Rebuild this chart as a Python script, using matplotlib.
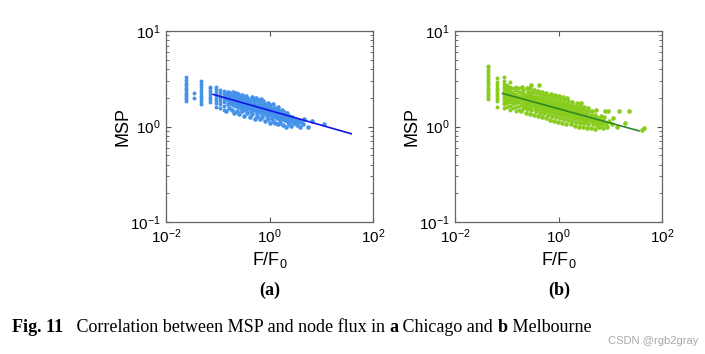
import numpy as np
import matplotlib.pyplot as plt
from matplotlib.ticker import LogLocator, NullLocator

plt.rcParams['font.family'] = ['Liberation Sans', 'DejaVu Sans']
plt.rcParams['mathtext.fontset'] = 'custom'
plt.rcParams['mathtext.rm'] = 'Liberation Sans'
plt.rcParams['mathtext.it'] = 'Liberation Sans'

# ---- (a) Chicago ----
# vertical stripes at the low-flux end
chi_stripe_f = [0.024, 0.035, 0.047, 0.071, 0.092, 0.11, 0.13]
chi_stripe_msp = [
    [1.85, 1.95, 2.05, 2.15, 2.25, 2.4, 2.55, 2.7, 2.85, 3.05, 3.3],
    [2.0, 2.25],
    [1.7, 1.85, 2.0, 2.1, 2.25, 2.4, 2.6, 2.8, 3.0],
    [1.8, 1.95, 2.05, 2.2, 2.35, 2.5, 2.6],
    [1.6, 1.75, 1.9, 2.0, 2.15, 2.3, 2.45, 2.6],
    [1.55, 1.7, 1.85, 2.0, 2.1, 2.25, 2.4],
    [1.5, 1.65, 1.8, 1.95, 2.1, 2.25, 2.35],
]
# main cloud
chi_f = [0.142, 0.158, 0.147, 0.153, 0.139, 0.161,
         0.166, 0.178, 0.171, 0.163, 0.181,
         0.186, 0.199, 0.192, 0.184, 0.203, 0.195,
         0.208, 0.226, 0.214, 0.221, 0.205, 0.229,
         0.236, 0.252, 0.241, 0.258, 0.233, 0.247,
         0.263, 0.284, 0.271, 0.279, 0.266, 0.288,
         0.293, 0.315, 0.302, 0.309, 0.297,
         0.328, 0.352, 0.339, 0.345, 0.331, 0.356,
         0.366, 0.392, 0.378, 0.385, 0.371,
         0.412, 0.446, 0.425, 0.438, 0.418, 0.451,
         0.465, 0.498, 0.482, 0.491, 0.472,
         0.521, 0.562, 0.538, 0.553, 0.529, 0.547,
         0.582, 0.624, 0.601, 0.613, 0.590,
         0.652, 0.705, 0.671, 0.692, 0.663, 0.684,
         0.731, 0.792, 0.758, 0.776, 0.744,
         0.818, 0.882, 0.846, 0.866, 0.832,
         0.915, 0.986, 0.948, 0.972, 0.931,
         1.02, 1.11, 1.06, 1.09, 1.04,
         1.15, 1.25, 1.19, 1.22, 1.17,
         1.29, 1.41, 1.33, 1.37,
         1.44, 1.57, 1.49, 1.53, 1.46,
         1.63, 1.77, 1.69, 1.72,
         1.83, 1.98, 1.89, 1.94,
         2.06, 2.24, 2.12, 2.18,
         2.33, 2.49, 2.41,
         2.62, 2.78, 2.70,
         2.95, 3.12,
         3.35, 3.52,
         3.85, 4.05,
         4.60, 4.40,
         5.5, 6.6, 11.5]
chi_msp = [1.45, 1.72, 1.92, 2.08, 2.22, 2.32,
           1.55, 1.78, 1.96, 2.12, 2.26,
           1.50, 1.66, 1.86, 2.02, 2.16, 2.30,
           1.40, 1.62, 1.80, 1.96, 2.10, 2.22,
           1.46, 1.60, 1.76, 1.90, 2.05, 2.20,
           1.36, 1.55, 1.70, 1.84, 1.98, 2.14,
           1.45, 1.60, 1.74, 1.88, 2.04,
           1.30, 1.50, 1.64, 1.78, 1.94, 2.10,
           1.40, 1.55, 1.70, 1.84, 1.98,
           1.26, 1.44, 1.58, 1.74, 1.88, 2.04,
           1.34, 1.50, 1.64, 1.78, 1.94,
           1.20, 1.40, 1.54, 1.68, 1.84, 1.98,
           1.30, 1.45, 1.58, 1.72, 1.88,
           1.20, 1.35, 1.48, 1.62, 1.78, 1.92,
           1.25, 1.40, 1.54, 1.68, 1.84,
           1.15, 1.30, 1.44, 1.58, 1.74,
           1.20, 1.34, 1.48, 1.62, 1.78,
           1.10, 1.24, 1.38, 1.52, 1.68,
           1.14, 1.28, 1.42, 1.56, 1.72,
           1.10, 1.24, 1.38, 1.52,
           1.05, 1.18, 1.32, 1.46, 1.60,
           1.10, 1.24, 1.36, 1.48,
           1.04, 1.16, 1.28, 1.42,
           1.00, 1.12, 1.24, 1.38,
           1.07, 1.19, 1.30,
           1.02, 1.14, 1.26,
           1.09, 1.21,
           1.04, 1.17,
           1.00, 1.12,
           1.20, 1.05,
           1.00, 1.14, 1.05]
# denser core along the trend
chi_core_f = [0.162, 0.165, 0.180, 0.176, 0.200, 0.197, 0.225, 0.230, 0.250, 0.246,
              0.285, 0.281, 0.320, 0.324, 0.360, 0.356, 0.400, 0.404, 0.455, 0.459,
              0.510, 0.506, 0.570, 0.575, 0.640, 0.635, 0.720, 0.726, 0.800, 0.795,
              0.900, 0.907, 1.00, 0.99, 1.13, 1.14, 1.27, 1.26, 1.42, 1.43,
              1.60, 1.61, 1.80, 1.79, 2.00, 2.02, 2.30, 2.28, 2.55, 2.85, 3.2, 3.6]
chi_core_msp = [1.98, 1.85, 1.90, 2.04, 1.75, 1.95, 1.86, 1.70, 1.83, 1.95,
                1.78, 1.64, 1.74, 1.86, 1.70, 1.58, 1.67, 1.79, 1.62, 1.52,
                1.59, 1.70, 1.56, 1.46, 1.53, 1.64, 1.49, 1.40, 1.47, 1.57,
                1.44, 1.35, 1.42, 1.52, 1.39, 1.30, 1.36, 1.45, 1.33, 1.25,
                1.30, 1.38, 1.28, 1.20, 1.26, 1.33, 1.23, 1.15, 1.20, 1.18, 1.15, 1.12]
chi_fit_f = [0.081, 38]
chi_fit_msp = [2.17, 0.84]

# ---- (b) Melbourne ----
mel_stripe_f = [0.044, 0.065, 0.087, 0.10, 0.115, 0.13, 0.15, 0.17]
mel_stripe_msp = [
    [1.95, 2.05, 2.15, 2.25, 2.35, 2.45, 2.55, 2.7, 2.85, 3.0, 3.15, 3.3, 3.5, 3.7, 3.9, 4.15, 4.35],
    [1.6, 1.85, 1.95, 2.05, 2.15, 2.25, 2.4, 2.55, 2.7, 2.9, 3.2],
    [1.55, 1.7, 1.8, 1.9, 2.0, 2.1, 2.2, 2.3, 2.45, 2.6, 2.8, 3.0, 3.3],
    [1.6, 1.75, 1.9, 2.05, 2.2, 2.35, 2.5, 2.7],
    [1.5, 1.65, 1.8, 1.95, 2.1, 2.25, 2.4, 2.6, 2.9],
    [1.55, 1.7, 1.85, 2.0, 2.15, 2.3, 2.5],
    [1.45, 1.6, 1.75, 1.9, 2.05, 2.2, 2.4, 2.6],
    [1.5, 1.65, 1.8, 1.95, 2.1, 2.3, 2.5],
]
mel_f = [0.192, 0.207, 0.198, 0.211, 0.189, 0.203, 0.195, 0.209, 0.200,
         0.231, 0.248, 0.236, 0.252, 0.228, 0.244, 0.239, 0.255, 0.242,
         0.278, 0.299, 0.285, 0.303, 0.274, 0.294, 0.288, 0.306, 0.281, 0.297,
         0.336, 0.361, 0.344, 0.366, 0.331, 0.355, 0.348, 0.368, 0.340,
         0.402, 0.433, 0.414, 0.438, 0.398, 0.425, 0.419, 0.441, 0.408, 0.429,
         0.482, 0.518, 0.495, 0.522, 0.476, 0.510, 0.501, 0.526, 0.489,
         0.578, 0.622, 0.594, 0.627, 0.571, 0.612, 0.601, 0.631, 0.586,
         0.692, 0.745, 0.712, 0.751, 0.684, 0.733, 0.720, 0.756, 0.703,
         0.828, 0.892, 0.852, 0.898, 0.819, 0.877, 0.861, 0.905, 0.841,
         0.992, 1.068, 1.021, 1.075, 0.981, 1.050, 1.031, 1.083, 1.008,
         1.19, 1.28, 1.22, 1.29, 1.17, 1.26, 1.24, 1.30, 1.21,
         1.42, 1.53, 1.46, 1.54, 1.40, 1.51, 1.48, 1.56, 1.44,
         1.71, 1.83, 1.75, 1.85, 1.68, 1.80, 1.78, 1.86,
         2.04, 2.20, 2.10, 2.22, 2.01, 2.16, 2.13, 2.24,
         2.45, 2.63, 2.51, 2.66, 2.40, 2.58, 2.55, 2.68,
         2.94, 3.16, 3.02, 3.19, 2.89, 3.10, 3.06,
         3.52, 3.78, 3.61, 3.82, 3.46, 3.71, 3.66,
         4.24, 4.55, 4.35, 4.60, 4.17, 4.47,
         5.10, 5.48, 5.23, 5.52, 5.02, 5.38,
         6.1, 6.5, 6.3, 6.7,
         7.3, 7.9, 7.6, 8.0,
         8.8, 9.4, 9.1,
         10.6, 11.4,
         13.5, 14.5,
         19.0, 23.0,
         41.0, 45.0]
mel_msp = [1.45, 1.58, 1.70, 1.82, 1.95, 2.08, 2.22, 2.40, 2.62,
           1.40, 1.52, 1.65, 1.78, 1.90, 2.03, 2.16, 2.32, 2.55,
           1.35, 1.48, 1.60, 1.72, 1.85, 1.98, 2.12, 2.28, 2.50, 2.75,
           1.32, 1.44, 1.56, 1.68, 1.80, 1.93, 2.06, 2.22, 2.42,
           1.28, 1.40, 1.52, 1.64, 1.76, 1.88, 2.02, 2.18, 2.38, 2.70,
           1.25, 1.37, 1.48, 1.60, 1.72, 1.84, 1.97, 2.12, 2.30,
           1.22, 1.33, 1.45, 1.56, 1.68, 1.80, 1.93, 2.08, 2.25,
           1.18, 1.30, 1.41, 1.52, 1.64, 1.76, 1.89, 2.04, 2.20,
           1.15, 1.26, 1.37, 1.48, 1.60, 1.72, 1.85, 2.00, 2.15,
           1.12, 1.23, 1.34, 1.45, 1.56, 1.68, 1.80, 1.95, 2.10,
           1.10, 1.20, 1.31, 1.42, 1.53, 1.64, 1.76, 1.90, 2.05,
           1.07, 1.17, 1.28, 1.38, 1.49, 1.60, 1.72, 1.86, 2.00,
           1.05, 1.15, 1.25, 1.35, 1.46, 1.57, 1.68, 1.82,
           1.02, 1.12, 1.22, 1.32, 1.43, 1.54, 1.65, 1.78,
           1.00, 1.10, 1.20, 1.30, 1.40, 1.50, 1.62, 1.75,
           0.98, 1.08, 1.17, 1.27, 1.37, 1.48, 1.60,
           0.97, 1.06, 1.15, 1.25, 1.35, 1.46, 1.58,
           0.96, 1.05, 1.14, 1.23, 1.33, 1.45,
           0.95, 1.04, 1.13, 1.22, 1.32, 1.48,
           0.98, 1.08, 1.18, 1.30,
           0.97, 1.10, 1.25, 1.45,
           1.00, 1.15, 1.45,
           1.05, 1.22,
           0.98, 1.45,
           1.10, 1.47,
           0.93, 0.96]
mel_core_f = [0.22, 0.215, 0.224, 0.265, 0.26, 0.27, 0.32, 0.315, 0.326,
              0.385, 0.38, 0.39, 0.46, 0.455, 0.467, 0.55, 0.545, 0.558,
              0.66, 0.652, 0.668, 0.79, 0.78, 0.80, 0.94, 0.93, 0.95,
              1.13, 1.12, 1.15, 1.35, 1.33, 1.37, 1.62, 1.60, 1.64,
              1.94, 1.92, 1.97, 2.33, 2.30, 2.36, 2.80, 2.76, 2.84,
              3.35, 3.40, 4.0, 4.06, 4.85, 4.9, 5.8, 5.9, 7.0, 7.1, 8.3]
mel_core_msp = [1.76, 1.98, 2.14, 1.70, 1.92, 2.08, 1.66, 1.88, 2.02,
                1.62, 1.83, 1.97, 1.58, 1.79, 1.92, 1.53, 1.75, 1.88,
                1.50, 1.70, 1.83, 1.46, 1.66, 1.79, 1.42, 1.62, 1.75,
                1.38, 1.58, 1.71, 1.35, 1.54, 1.67, 1.31, 1.50, 1.62,
                1.28, 1.46, 1.58, 1.25, 1.42, 1.55, 1.22, 1.39, 1.52,
                1.19, 1.35, 1.16, 1.30, 1.12, 1.27, 1.10, 1.22, 1.05, 1.18, 1.07]
mel_fit_f = [0.083, 36]
mel_fit_msp = [2.22, 0.90]

panels = [
    (chi_stripe_f, chi_stripe_msp, chi_f + chi_core_f, chi_msp + chi_core_msp,
     chi_fit_f, chi_fit_msp, '#4592ea', '#1414e6', '(a)', 166),
    (mel_stripe_f, mel_stripe_msp, mel_f + mel_core_f, mel_msp + mel_core_msp,
     mel_fit_f, mel_fit_msp, '#88cc1e', '#2f8a22', '(b)', 455),
]

W, H = 705, 354
fig = plt.figure(figsize=(W / 100, H / 100), dpi=100)

for sf, smsp, f, msp, ff, fmsp, pc, lc, tag, left in panels:
    ax = fig.add_axes([left / W, 1 - 222 / H, 207 / W, 191 / H])
    for x, ys in zip(sf, smsp):
        ax.scatter([x] * len(ys), ys, s=8, color=pc, linewidths=0)
    ax.scatter(f, msp, s=11, color=pc, linewidths=0)
    ax.plot(ff, fmsp, color=lc, lw=1.2)
    ax.set_xscale('log')
    ax.set_yscale('log')
    ax.set_xlim(1e-2, 1e2)
    ax.set_ylim(1e-1, 1e1)
    ax.set_xticks([1e-2, 1e0, 1e2])
    ax.xaxis.set_minor_locator(NullLocator())
    ax.yaxis.set_major_locator(LogLocator(base=10))
    ax.yaxis.set_minor_locator(LogLocator(base=10, subs=np.arange(2, 10)))
    ax.tick_params(which='both', direction='in', top=True, right=True,
                   labelsize=11, color='#555555', pad=4)
    ax.tick_params(which='major', length=3.5)
    ax.tick_params(which='minor', length=2)
    for sp in ax.spines.values():
        sp.set_color('#666666')
        sp.set_linewidth(0.9)
    ax.set_ylabel('MSP', fontsize=13, labelpad=-1)
    ax.set_xlabel('F/F$_0$', fontsize=13, labelpad=3)
    fig.text((left + 104) / W, 1 - 290 / H, tag, family='Liberation Serif',
             fontweight='bold', fontsize=13, ha='center', va='center')

# caption, pieced together to mix bold and regular
pieces = [('Fig. 11', 'bold'), ('   Correlation between MSP and node flux in ', 'normal'),
          ('a', 'bold'), (' Chicago and ', 'normal'), ('b', 'bold'), (' Melbourne', 'normal')]
renderer = fig.canvas.get_renderer()
x = 12
for s, w in pieces:
    t = fig.text(x / W, 1 - 327 / H, s, family='Liberation Serif', fontweight=w,
                 fontsize=13, ha='left', va='center')
    bb = t.get_window_extent(renderer)
    x += bb.width

fig.text(698 / W, 1 - 341 / H, 'CSDN @rgb2gray', fontsize=8, color='#a8a8a8',
         ha='right', va='center')

fig.savefig('out.png', dpi=100)
